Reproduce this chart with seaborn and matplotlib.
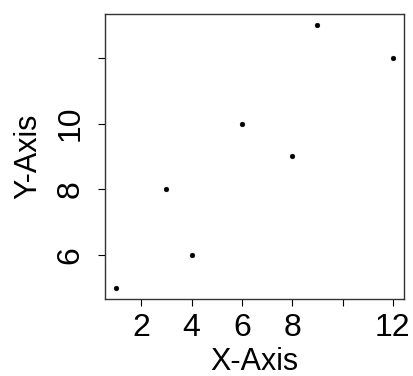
import matplotlib
matplotlib.use('Agg')
import matplotlib.pyplot as plt
import seaborn as sns
import pandas as pd

# Data
x_vals = [1, 3, 4, 6, 8, 9, 12]
y_vals = [5, 8, 6, 10, 9, 13, 12]
x_ticks = [2, 4, 6, 8, 10, 12]
x_tick_labels = ['2', '4', '6', '8', '', '12']
y_ticks = [6, 8, 10, 12]
y_tick_labels = ['6', '8', '10', '']

df = pd.DataFrame({'x': x_vals, 'y': y_vals})

sns.set_style('white')
plt.rcParams['font.family'] = ['Liberation Sans', 'DejaVu Sans']
plt.rcParams['text.color'] = 'black'
plt.rcParams['axes.labelcolor'] = 'black'
plt.rcParams['xtick.color'] = 'black'
plt.rcParams['ytick.color'] = 'black'

fig = plt.figure(figsize=(4.14, 3.76), dpi=100)
ax = fig.add_axes([0.2536, 0.2048, 0.7222, 0.758])

sns.scatterplot(data=df, x='x', y='y', ax=ax, color='black', s=12,
                edgecolor='black', linewidth=0.3)

ax.set_xlim(0.56, 12.44)
ax.set_ylim(4.68, 13.32)
ax.set_xticks(x_ticks)
ax.set_xticklabels(x_tick_labels, fontsize=23)
ax.set_yticks(y_ticks)
ax.set_yticklabels(y_tick_labels, fontsize=23, rotation=90, va='center')
ax.tick_params(axis='both', direction='out', length=5, width=0.8,
               bottom=True, left=True)
ax.tick_params(axis='x', pad=5)
ax.tick_params(axis='y', pad=9)
for sp in ax.spines.values():
    sp.set_color('#333333')
    sp.set_linewidth(1.0)

ax.set_xlabel('X-Axis', fontsize=22, labelpad=3)
ax.set_ylabel('Y-Axis', fontsize=22, labelpad=9)

fig.savefig('out.png', dpi=100)
